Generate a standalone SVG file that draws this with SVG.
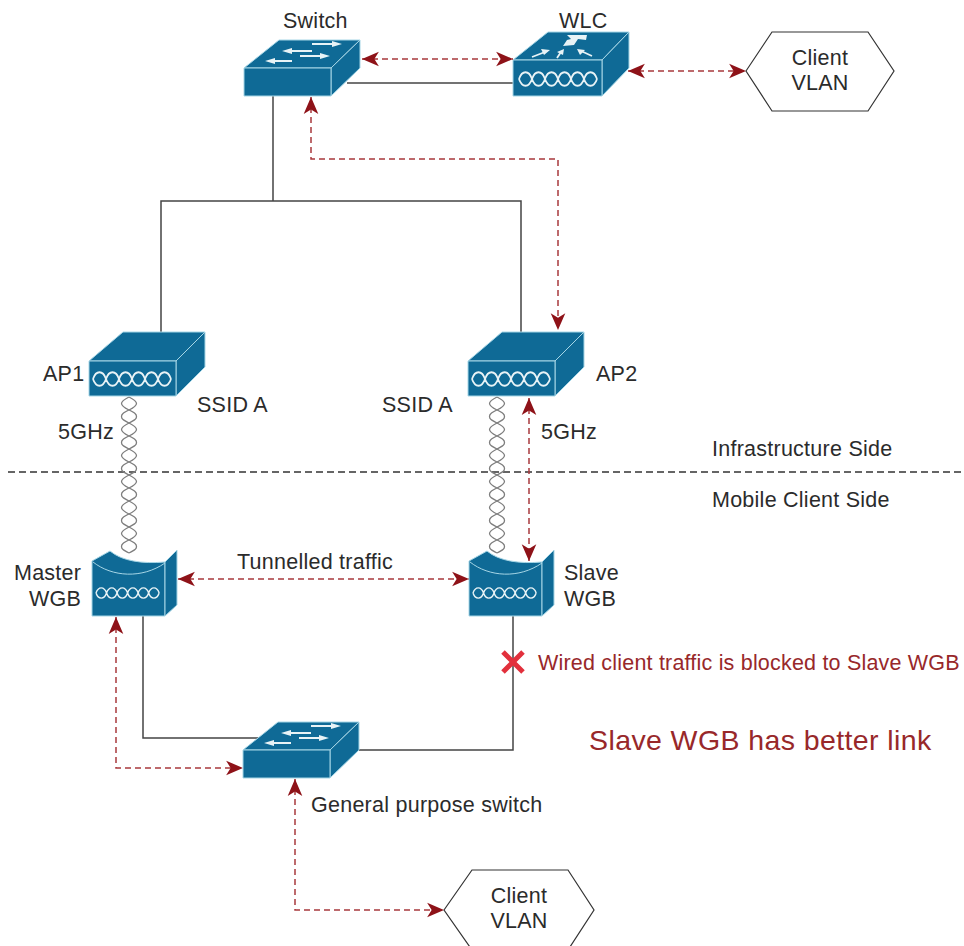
<svg xmlns="http://www.w3.org/2000/svg" width="964" height="946" viewBox="0 0 964 946">
<style>
text{font-family:"Liberation Sans",Arial,sans-serif;font-size:21.500px;letter-spacing:.25px;fill:#2b2b2b}
.red{fill:#98282a}
.wire{fill:none;stroke:#444;stroke-width:1.500}
.flow{fill:none;stroke:#a8383c;stroke-width:1.500;stroke-dasharray:6 4}
.body{fill:#0f6a96;stroke:#a6d6e6;stroke-width:1;stroke-linejoin:round}
.ic{fill:none;stroke:#e8f3f6;stroke-width:1.800}
.ar{fill:#e8f3f6;stroke:none}
.braid{fill:none;stroke:#7d7d7d;stroke-width:1.300}
.hex{fill:#fff;stroke:#333;stroke-width:1.200}
</style>
<defs>
<marker id="a" markerUnits="userSpaceOnUse" markerWidth="18" markerHeight="18" refX="15" refY="8" orient="auto-start-reverse" viewBox="0 0 16 16">
<path d="M0 1.500L15 8L0 14.500L4 8Z" fill="#8e1218"/>
</marker>
<g id="wave">
<path class="ic" d="M0 0C3-9 10-9 13 0C16 9 23 9 26 0C29-9 36-9 39 0C42 9 49 9 52 0C55-9 62-9 65 0C68 9 75 9 78 0M0 0C3 9 10 9 13 0C16-9 23-9 26 0C29 9 36 9 39 0C42-9 49-9 52 0C55 9 62 9 65 0C68-9 75-9 78 0"/>
</g>
<g id="box">
<path class="body" d="M0 29L34 0H116L87 29Z"/>
<path class="body" d="M87 29L116 0V35L87 64Z"/>
<rect class="body" x="0" y="29" width="87" height="35"/>
<use href="#wave" x="4" y="47"/>
</g>
<g id="sw">
<path class="body" d="M0 28L35 0H116L87 28Z"/>
<path class="body" d="M87 28L116 0V28L87 56Z"/>
<rect class="body" x="0" y="28" width="87" height="28"/>
<path class="ic" d="M68 4H90M68 11H44M56 16H78M26 21H48"/>
<path class="ar" d="M98 4L88 1V7ZM38 11L48 8V14ZM86 16L76 13V19ZM21 21L31 18V24Z"/>
</g>
<g id="wgb">
<path class="body" d="M0 11L18 1C30 11 50 14 73 12V66H0Z"/>
<path class="body" d="M73 12L85 0V55L73 66Z"/>
<path class="ic" d="M1 12C20 27 50 29 73 13" style="stroke:#a6d6e6;stroke-width:1"/>
<use href="#wave" transform="translate(4 43) scale(.81 .75)"/>
</g>
<path id="braid" class="braid" d="M0 0C6 3 7.500 4.500 7.500 6.500S6 10 0 13S-7.500 17-7.500 19.500S-6 23 0 26M0 0C-6 3-7.500 4.500-7.500 6.500S-6 10 0 13S7.500 17 7.500 19.500S6 23 0 26"/>
<g id="chain">
<use href="#braid" y="0"/><use href="#braid" y="26"/><use href="#braid" y="52"/><use href="#braid" y="78"/><use href="#braid" y="104"/><use href="#braid" y="130"/>
</g>
</defs>

<g id="connectors">
<path class="wire" d="M347 83H513"/>
<path class="wire" d="M273 96V201M161 332V201H521V332"/>
<path class="wire" d="M143 616V738H260"/>
<path class="wire" d="M513 616V750H358"/>
<path d="M8 472H964" fill="none" stroke="#333" stroke-width="1.300" stroke-dasharray="7 4"/>
<path class="flow" d="M362 59H513" marker-start="url(#a)" marker-end="url(#a)"/>
<path class="flow" d="M628 71H746" marker-start="url(#a)" marker-end="url(#a)"/>
<path class="flow" d="M311 97V159H558V330" marker-start="url(#a)" marker-end="url(#a)"/>
<path class="flow" d="M529 398V561" marker-start="url(#a)" marker-end="url(#a)"/>
<path class="flow" d="M178 579H469" marker-start="url(#a)" marker-end="url(#a)"/>
<path class="flow" d="M116 617V768H243" marker-start="url(#a)" marker-end="url(#a)"/>
<path class="flow" d="M295 779V910H444" marker-start="url(#a)" marker-end="url(#a)"/>
</g>

<g id="radio1"><use href="#chain" x="129" y="397"/></g>
<g id="radio2"><use href="#chain" x="497" y="397"/></g>

<g id="switch">
<use href="#sw" transform="translate(244 40)"/>
<text x="283" y="28">Switch</text>
</g>
<g id="wlc">
<path class="body" d="M513 60L548 32H629L602 60Z"/>
<path class="body" d="M602 60L629 32V68L602 96Z"/>
<rect class="body" x="513" y="60" width="89" height="36"/>
<use href="#wave" x="519" y="79"/>
<path class="ar" d="M563 46L567 40L571 39L567 35H587L586 40L578 39L574 45Z"/>
<path class="ic" d="M532 57L545 52M557 58L561 52M592 56L581 51"/>
<path class="ar" d="M550 50L541 49L544 55ZM564 49L557 52L563 55ZM577 49L580 55L585 50Z"/>
<text x="559" y="28">WLC</text>
</g>
<g id="client-vlan-top">
<path class="hex" d="M746 71L772 32H868L894 71L868 111H772Z"/>
<text x="820" y="65" text-anchor="middle">Client</text>
<text x="820" y="90" text-anchor="middle">VLAN</text>
</g>
<g id="ap1">
<use href="#box" transform="translate(89 332)"/>
<text x="43" y="381">AP1</text>
<text x="197" y="412">SSID A</text>
<text x="58" y="439">5GHz</text>
</g>
<g id="ap2">
<use href="#box" transform="translate(468 332)"/>
<text x="596" y="381">AP2</text>
<text x="382" y="412">SSID A</text>
<text x="541" y="439">5GHz</text>
</g>
<g id="master-wgb">
<use href="#wgb" transform="translate(92 550)"/>
<text x="14" y="580">Master</text>
<text x="29" y="606">WGB</text>
</g>
<g id="slave-wgb">
<use href="#wgb" transform="translate(469 550)"/>
<text x="564" y="580">Slave</text>
<text x="564" y="606">WGB</text>
</g>
<g id="general-switch">
<use href="#sw" transform="translate(243 722)"/>
<text x="311" y="812">General purpose switch</text>
</g>
<g id="client-vlan-bottom">
<path class="hex" d="M444 910L472 870H568L594 910L568 950H472Z"/>
<text x="519" y="903" text-anchor="middle">Client</text>
<text x="519" y="928" text-anchor="middle">VLAN</text>
</g>
<g id="labels">
<text x="712" y="456">Infrastructure Side</text>
<text x="712" y="507">Mobile Client Side</text>
<text x="237" y="569">Tunnelled traffic</text>
<path d="M503 652L523 672M523 652L503 672" fill="none" stroke="#e2303c" stroke-width="5"/>
<text class="red" x="538" y="670" style="letter-spacing:.2px">Wired client traffic is blocked to Slave WGB</text>
<text class="red" x="589" y="750" style="font-size:28.500px;letter-spacing:.4px">Slave WGB has better link</text>
</g>
</svg>
